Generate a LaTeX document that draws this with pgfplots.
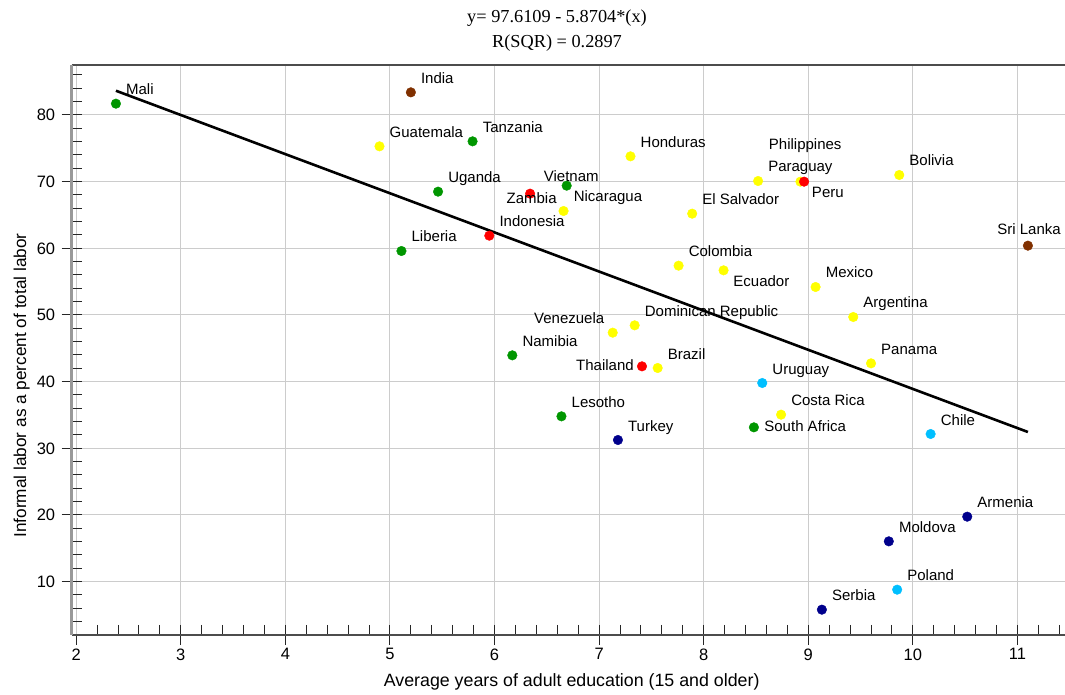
\documentclass[border=0pt]{standalone}
\usepackage{fontspec}
\setmainfont{Liberation Sans}
\newfontfamily\titlefont{Liberation Serif}
\usepackage{pgfplots}
\pgfplotsset{compat=1.18}
\usepackage{pgfplotstable}

\definecolor{ptgreen}{RGB}{0,150,0}
\definecolor{ptyellow}{RGB}{255,255,0}
\definecolor{ptred}{RGB}{255,0,0}
\definecolor{ptbrown}{RGB}{128,48,0}
\definecolor{ptnavy}{RGB}{0,0,140}
\definecolor{ptsky}{RGB}{0,191,255}

% x = average years of adult education, y = informal labor (%)
% dx, dy = offset (bp) of the label's baseline start from the point
\pgfplotstableread[col sep=comma]{
x,y,dx,dy,label
2.38,81.70,10,9,Mali
5.79,76.05,10,9,Tanzania
5.46,68.50,10,9,Uganda
5.11,59.60,10,9,Liberia
6.69,69.40,-23,4.3,Vietnam
6.17,43.95,10,9,Namibia
6.64,34.80,10,9,Lesotho
8.48,33.15,10.3,-4,South Africa
}\greengroup

\pgfplotstableread[col sep=comma]{
x,y,dx,dy,label
4.90,75.30,10,9,Guatemala
6.66,65.60,10,9,Nicaragua
7.30,73.80,10,9,Honduras
7.89,65.20,10,9,El Salvador
7.76,57.40,10,9,Colombia
8.19,56.70,9.7,-16.3,Ecuador
8.52,70.10,10,9,Paraguay
8.925,70.00,-31.7,32,Philippines
9.87,71.00,10,9,Bolivia
9.07,54.20,10,9,Mexico
9.43,49.70,10,9,Argentina
9.60,42.75,10,9,Panama
7.13,47.35,-78.7,9.3,Venezuela
7.34,48.45,10,9,Dominican Republic
7.56,42.05,10,9,Brazil
8.74,35.05,10,9,Costa Rica
}\yellowgroup

\pgfplotstableread[col sep=comma]{
x,y,dx,dy,label
6.34,68.20,-23.7,-10.3,Zambia
5.95,61.90,10,9,Indonesia
8.96,70.00,7.7,-16,Peru
7.41,42.30,-66,-3.7,Thailand
}\redgroup

\pgfplotstableread[col sep=comma]{
x,y,dx,dy,label
5.20,83.40,10,9,India
11.10,60.40,-30.7,11,Sri Lanka
}\browngroup

\pgfplotstableread[col sep=comma]{
x,y,dx,dy,label
7.18,31.25,10,9,Turkey
10.52,19.75,10,9,Armenia
9.77,16.05,10,9,Moldova
9.13,5.80,10,9,Serbia
}\navygroup

\pgfplotstableread[col sep=comma]{
x,y,dx,dy,label
8.56,39.80,10,9,Uruguay
10.17,32.15,10,9,Chile
9.85,8.80,10,9,Poland
}\skygroup

\pgfplotsset{
  country/.style={
    only marks, mark=*, mark size=4.8bp,
    mark options={draw=#1, fill=#1},
    nodes near coords, point meta=explicit symbolic,
    visualization depends on={\thisrow{dx} \as \dx},
    visualization depends on={\thisrow{dy} \as \dy},
    nodes near coords style={anchor=base west, inner sep=0pt,
      xshift=\dx bp, yshift=\dy bp, text=black,
      font=\fontsize{15bp}{18bp}\selectfont},
  },
}

\begin{document}
\begin{tikzpicture}
\begin{axis}[
  at={(71.7bp,60bp)}, anchor=south west,
  scale only axis, width=992.8bp, height=570bp,
  xmin=1.957, xmax=11.45, ymin=2, ymax=87.5,
  axis x line=box, axis y line*=left,
  x axis line style={draw=black!70, line width=1.4bp},
  y axis line style={-, draw=black!40, line width=3bp},
  xtick={2,3,...,11}, ytick={10,20,...,80},
  minor xtick={2.2,2.4,...,11.4}, minor ytick={4,6,...,86},
  xtick pos=bottom, ytick pos=left,
  tick align=outside,
  major tick length=10bp, minor tick length=-10bp,
  tick style={draw=black!85, line width=1bp},
  grid=major, major grid style={draw=black!20, line width=1bp},
  /pgf/number format/assume math mode=true,
  ticklabel style={font=\fontsize{16.5bp}{19bp}\selectfont},
  yticklabel style={xshift=-3bp},
  xlabel={Average years of adult education (15 and older)},
  ylabel={Informal labor as a percent of total labor},
  xlabel style={at={(axis description cs:0.5036,-0.0907)}, anchor=base,
    font=\fontsize{17.8bp}{21bp}\selectfont},
  ylabel style={at={(axis description cs:-0.046,0.165)}, anchor=base west,
    font=\fontsize{17.2bp}{21bp}\selectfont},
  clip=false,
]
% fitted regression line y = 97.6109 - 5.8704 x
\addplot[black, line width=2.6bp] coordinates {(2.38,83.64) (11.10,32.45)};

\addplot[country=ptgreen]  table[x=x, y=y, meta=label] {\greengroup};
\addplot[country=ptyellow] table[x=x, y=y, meta=label] {\yellowgroup};
\addplot[country=ptred]    table[x=x, y=y, meta=label] {\redgroup};
\addplot[country=ptbrown]  table[x=x, y=y, meta=label] {\browngroup};
\addplot[country=ptnavy]   table[x=x, y=y, meta=label] {\navygroup};
\addplot[country=ptsky]    table[x=x, y=y, meta=label] {\skygroup};
\end{axis}

\node[anchor=base, font=\titlefont\fontsize{18.3bp}{22bp}\selectfont]
  at (557bp,672.3bp) {y= 97.6109 - 5.8704*(x)};
\node[anchor=base, font=\titlefont\fontsize{18.3bp}{22bp}\selectfont]
  at (557bp,647.7bp) {R(SQR) = 0.2897};

\pgfresetboundingbox
\useasboundingbox (0,0) rectangle (1065bp,695bp);
\end{tikzpicture}
\end{document}
